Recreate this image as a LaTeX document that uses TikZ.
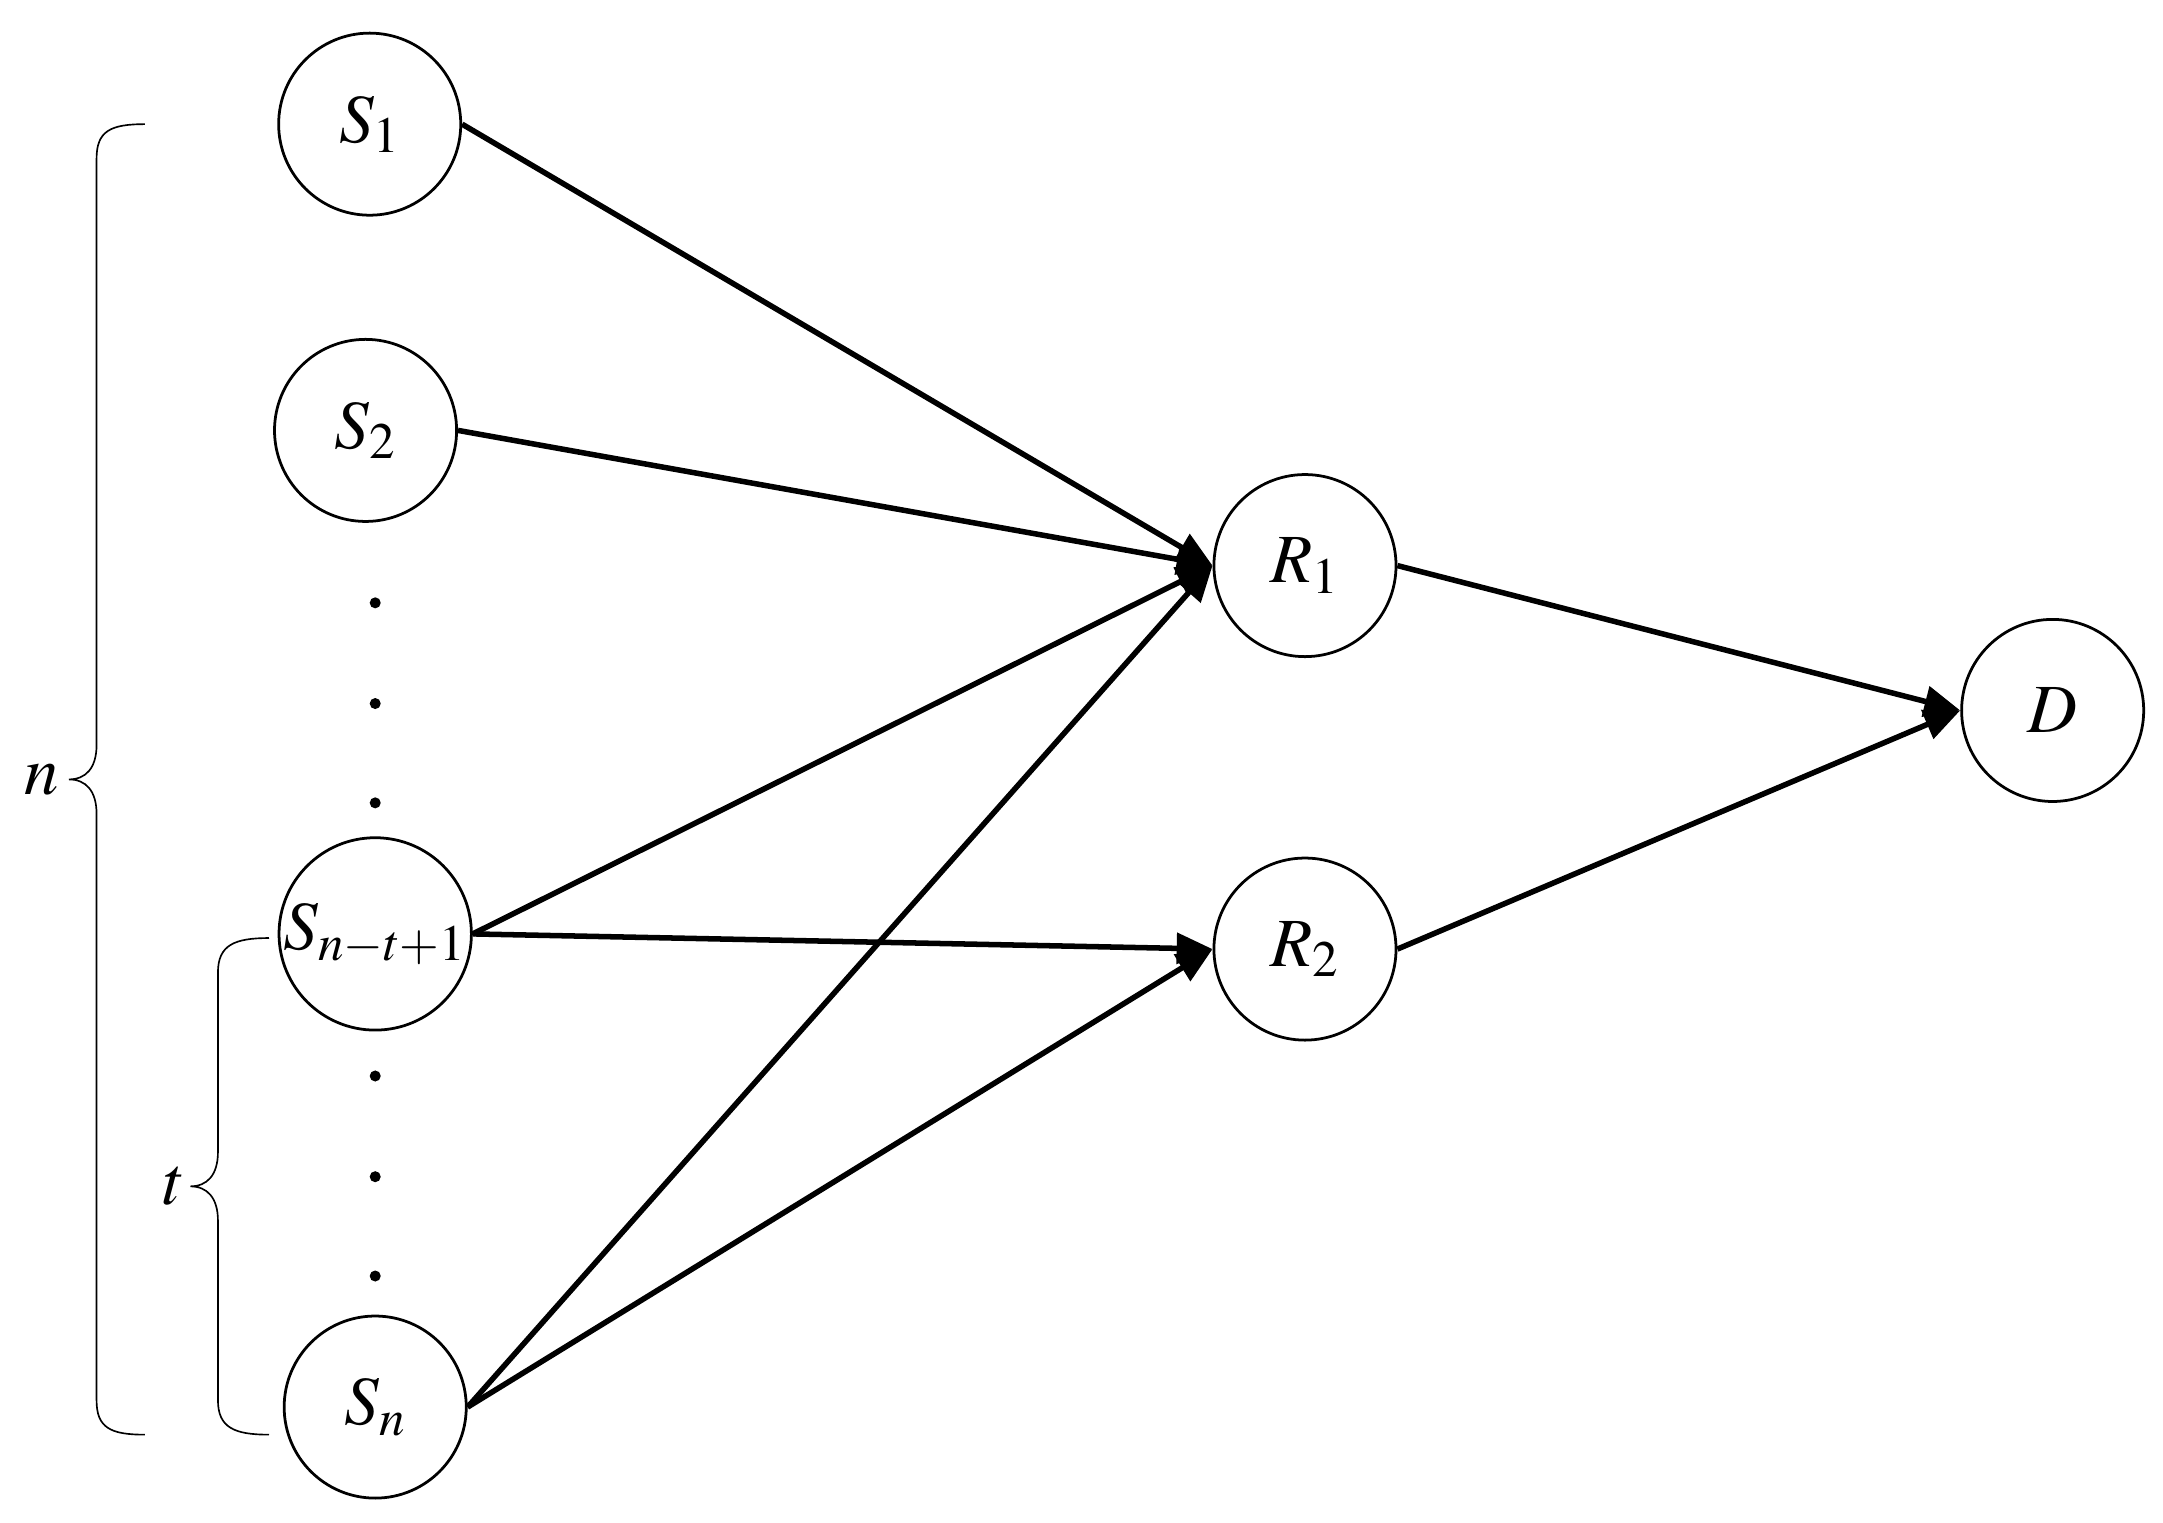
\documentclass[tikz,border=0pt]{standalone}
\usepackage{mathptmx}
\usepackage[no-math]{fontspec}
\setmainfont{Liberation Serif}
\usetikzlibrary{arrows.meta}
\begin{document}
\begin{tikzpicture}[x=0.5pt,y=-0.5pt,
  nd/.style={circle,draw,line width=1pt,minimum size=66pt,inner sep=0pt,font=\fontsize{25}{30}\selectfont},
  ar/.style={line width=2pt,-{Triangle[length=13pt,width=11pt]}},
  br/.style={line width=0.6pt},
  dt/.style={circle,fill,inner sep=0pt,minimum size=4pt}]
\useasboundingbox (0,0) rectangle (1568,1104);
\node[nd] (s1) at (268,90) {$S_1$};
\node[nd] (s2) at (265,312) {$S_2$};
\node[nd] (st) at (272,677) {$S_{n-t+1}$};
\node[nd] (sn) at (272,1020) {$S_n$};
\node[nd] (r1) at (946,410) {$R_1$};
\node[nd] (r2) at (946,688) {$R_2$};
\node[nd] (d) at (1488,515) {$D$};
\foreach \y [count=\i] in {437,510,582,780,853,925} \node[dt] (d\i) at (272,\y) {};
\draw[ar] (s1.east) -- (r1.west);
\draw[ar] (s2.east) -- (r1.west);
\draw[ar] (st.east) -- (r1.west);
\draw[ar] (st.east) -- (r2.west);
\draw[ar] (sn.east) -- (r1.west);
\draw[ar] (sn.east) -- (r2.west);
\draw[ar] (r1.east) -- (d.west);
\draw[ar] (r2.east) -- (d.west);
\coordinate (nb1) at (105,90); \coordinate (nb2) at (105,1040);
\draw[br] (nb1) .. controls (80,90) and (70,95) .. (70,115) -- (70,540)
  .. controls (70,557) and (62,565) .. (50,565)
  .. controls (62,565) and (70,573) .. (70,590) -- (70,1015)
  .. controls (70,1035) and (80,1040) .. (nb2);
\coordinate (tb1) at (195,680); \coordinate (tb2) at (195,1040);
\draw[br] (tb1) .. controls (170,680) and (158,685) .. (158,705) -- (158,835)
  .. controls (158,852) and (150,860) .. (138,860)
  .. controls (150,860) and (158,868) .. (158,885) -- (158,1015)
  .. controls (158,1035) and (170,1040) .. (tb2);
\node[font=\fontsize{25}{30}\selectfont] (nl) at (30,565) {$n$};
\node[font=\fontsize{25}{30}\selectfont] (tl) at (126,860) {$t$};
\end{tikzpicture}
\end{document}
